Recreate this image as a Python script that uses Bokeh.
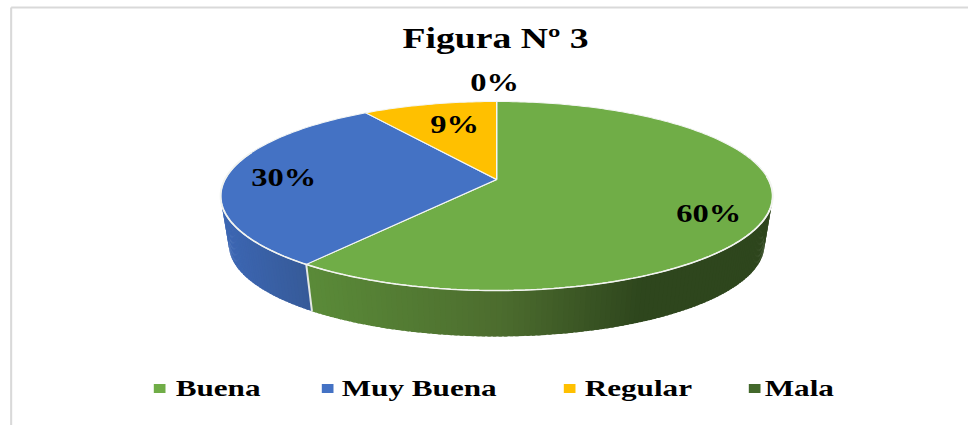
import math
from bokeh.plotting import figure
from bokeh.models import Range1d, ColumnDataSource
from bokeh.core.properties import value
from bokeh.embed import file_html
from bokeh.resources import INLINE

# ---- data
categories = ["Buena", "Muy Buena", "Regular", "Mala"]
shares = [60.3, 30.4, 9.3, 0.0]
title_text = "Figura Nº 3"

# ---- styles and layout (page pixels)
colors = ["#70AD47", "#4472C4", "#FFC000", "#43682B"]
label_x = [708, 283, 454, 494]
label_y = [213, 177, 124, 82]
legend_square_x = [159, 327, 569, 754]
legend_text_x = [175, 341, 584, 764]
FONT = "Liberation Serif"

PAGE_W, H = 968, 425
W = 745                       # layout width; the source picture is stretched sideways
STRETCH = PAGE_W / W
APEX_X, APEX_Y = 496, 179
A, C, K = 271.8, 91.6, 0.1747   # projection of the tilted disc
WALL_SCALE, WALL_DY = 0.97, 49.3

# the browser measures the stretched box, so the range spans the stretched width again
p = figure(width=W, height=H, output_backend="svg", toolbar_location=None,
           x_range=Range1d(0, PAGE_W * STRETCH), y_range=Range1d(H, 0),
           min_border=0, outline_line_color=None, background_fill_color="white")
p.styles = {"transform": "scaleX(%.5f)" % STRETCH, "transform-origin": "0 0"}
p.axis.visible = False
p.grid.visible = False


def rim(t_deg, scale=1.0, dy=0.0):
    t = math.radians(t_deg)
    X, Y = math.sin(t), math.cos(t)
    d = 1 + K * Y
    return APEX_X + scale * A * X / d, APEX_Y + dy + scale * C * (-Y) / d


def lerp_hex(stops, x):
    if x <= stops[0][0]:
        return "#%02x%02x%02x" % tuple(stops[0][1])
    for (x0, c0), (x1, c1) in zip(stops, stops[1:]):
        if x <= x1:
            f = (x - x0) / (x1 - x0)
            rgb = [round(a + (b - a) * f) for a, b in zip(c0, c1)]
            return "#%02x%02x%02x" % tuple(rgb)
    return "#%02x%02x%02x" % tuple(stops[-1][1])


green_stops = [(310, (90, 138, 56)), (500, (76, 108, 46)), (640, (46, 70, 29))]
blue_stops = [(225, (60, 102, 178)), (305, (54, 90, 152))]

# slice boundaries from the shares, clockwise from the top
total = sum(shares)
bounds = [0.0]
for s in shares:
    bounds.append(bounds[-1] + 360.0 * s / total)

# side wall
wx, wy, wc = [], [], []
def wall(t0, t1, stops):
    n = max(2, int(abs(t1 - t0)))
    for i in range(n):
        a = t0 + (t1 - t0) * i / n
        b = t0 + (t1 - t0) * (i + 1.6) / n
        b = min(b, t1)
        pts = [rim(a), rim(b), rim(b, WALL_SCALE, WALL_DY), rim(a, WALL_SCALE, WALL_DY)]
        wx.append([q[0] for q in pts])
        wy.append([q[1] for q in pts])
        wc.append(lerp_hex(stops, (pts[0][0] + pts[1][0]) / 2))

wall(70, bounds[1], green_stops)
wall(bounds[1], 292, blue_stops)
p.patches(wx, wy, fill_color=wc, line_color=None)

# seam between the two visible wall pieces
sa = rim(bounds[1]); sb = rim(bounds[1], WALL_SCALE, WALL_DY)
p.line([sa[0], sb[0]], [sa[1], sb[1]], line_color="#e4e8e4", line_width=1.5)

# top face
tx, ty, tc = [], [], []
for i, cat in enumerate(categories):
    if shares[i] <= 0:
        continue
    n = max(2, int(bounds[i + 1] - bounds[i]))
    pts = [(APEX_X, APEX_Y)] + [rim(bounds[i] + (bounds[i + 1] - bounds[i]) * j / n) for j in range(n + 1)]
    tx.append([q[0] for q in pts])
    ty.append([q[1] for q in pts])
    tc.append(colors[i])
p.patches(tx, ty, fill_color=tc, line_color="#f4f6f4", line_width=1.0)

# light front edge of the top face
front = [rim(88 + (288 - 88) * j / 200) for j in range(201)]
p.line([q[0] for q in front], [q[1] for q in front], line_color="#f2f4f0", line_width=1.5)

# chart frame pieces
p.line([10.5, 10.5], [7, H], line_color="#d9d9d9", line_width=1.6)
p.line([10.5, PAGE_W], [7, 7], line_color="#d9d9d9", line_width=2)

# title
p.text([495], [38], text=[title_text], text_font=value(FONT), text_font_style="bold",
       text_font_size="29px", text_color="#000000", text_align="center", text_baseline="middle")

# data labels
lab = ColumnDataSource(dict(x=label_x, y=label_y, t=["%d%%" % round(s) for s in shares]))
p.text("x", "y", text="t", source=lab, text_font=value(FONT), text_font_style="bold",
       text_font_size="25px", text_color="#000000", text_align="center", text_baseline="middle")

# legend
p.scatter(legend_square_x, [388] * 4, marker="square", size=9, fill_color=colors, line_color=None)
leg = ColumnDataSource(dict(x=legend_text_x, y=[387] * 4, t=categories))
p.text("x", "y", text="t", source=leg, text_font=value(FONT), text_font_style="bold",
       text_font_size="24px", text_color="#000000", text_align="left", text_baseline="middle")

open("out.html", "w").write(file_html(p, INLINE))
